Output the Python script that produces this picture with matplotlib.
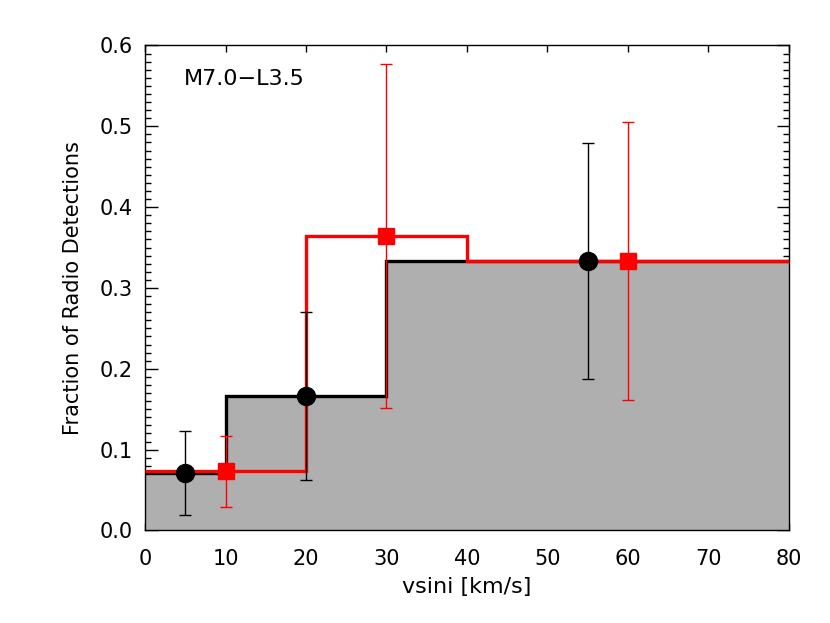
import matplotlib
matplotlib.use("Agg")
import matplotlib.pyplot as plt
from matplotlib.ticker import MultipleLocator

# histogram bins (edges) and fractions
black_edges = [0, 10, 20, 30, 80]
black_frac = [0.0714, 0.1667, 0.1667, 0.3333]
red_edges = [0, 20, 40, 80]
red_frac = [0.074, 0.364, 0.3333]

# points with asymmetric error bars
black_x = [5, 20, 55]
black_y = [0.0714, 0.1667, 0.3333]
black_lo = [0.019, 0.063, 0.188]
black_hi = [0.1235, 0.270, 0.479]

red_x = [10, 30, 60]
red_y = [0.074, 0.364, 0.3333]
red_lo = [0.0295, 0.152, 0.161]
red_hi = [0.117, 0.577, 0.505]

plt.rcParams['font.family'] = ['DejaVu Sans']
plt.rcParams['font.size'] = 13

fig = plt.figure(figsize=(8.3, 6.23), dpi=100)
ax = fig.add_axes([0.1747, 0.1485, 0.7759, 0.7785])
ax.set_axisbelow(True)

ax.stairs(black_frac, black_edges, fill=True, color='#afafaf', zorder=1)
ax.stairs(black_frac, black_edges, baseline=None, color='black', lw=2.4, zorder=2)
ax.stairs(red_frac, red_edges, baseline=None, color='red', lw=2.4, zorder=3)

ax.errorbar(black_x, black_y,
            yerr=[[y - l for y, l in zip(black_y, black_lo)],
                  [h - y for y, h in zip(black_y, black_hi)]],
            fmt='o', color='black', ms=13, elinewidth=1, capsize=4.5, capthick=1, zorder=4)
ax.errorbar(red_x, red_y,
            yerr=[[y - l for y, l in zip(red_y, red_lo)],
                  [h - y for y, h in zip(red_y, red_hi)]],
            fmt='s', color='red', ms=12, elinewidth=1, capsize=4.5, capthick=1, zorder=5)

ax.set_xlim(0, 80)
ax.set_ylim(0, 0.6)
ax.xaxis.set_major_locator(MultipleLocator(10))
ax.yaxis.set_major_locator(MultipleLocator(0.1))
ax.yaxis.set_minor_locator(MultipleLocator(0.01))
ax.yaxis.set_major_formatter(plt.FormatStrFormatter('%.1f'))
ax.tick_params(which='both', direction='in', top=True, right=True, labelsize=15)
ax.tick_params(axis='x', which='major', length=5, width=1, pad=13)
ax.tick_params(axis='y', which='major', length=9, width=1, pad=9)
ax.tick_params(axis='y', which='minor', length=4.3, width=1)
for s in ax.spines.values():
    s.set_linewidth(1)

ax.set_xlabel('vsini [km/s]', fontsize=16, labelpad=6)
ax.set_ylabel('Fraction of Radio Detections', fontsize=15, labelpad=12)
ax.text(0.06, 0.931, 'M7.0\u2212L3.5', transform=ax.transAxes, fontsize=16, va='center')

fig.savefig('out.png', dpi=100)
